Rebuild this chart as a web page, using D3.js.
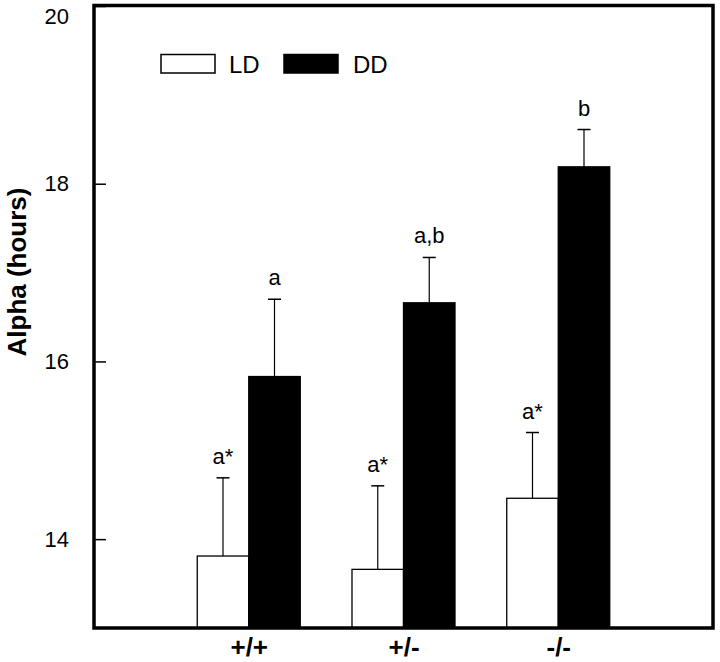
<!DOCTYPE html>
<html>
<head>
<meta charset="utf-8">
<script src="https://cdn.jsdelivr.net/npm/d3@7/dist/d3.min.js"></script>
<style>
  html, body { margin: 0; padding: 0; background: #fff; }
  svg { display: block; font-family: "Liberation Sans", Arial, sans-serif; }
</style>
</head>
<body>
<svg id="chart" width="720" height="662"></svg>
<script>
// ---- data ----
const categories = ["+/+", "+/-", "-/-"];
const seriesNames = ["LD", "DD"];
const ldMeans = [13.81, 13.66, 14.46];
const ldErr = [0.88, 0.94, 0.74];
const ddMeans = [15.83, 16.66, 18.19];
const ddErr = [0.87, 0.51, 0.42];
const ldLabels = ["a*", "a*", "a*"];
const ddLabels = ["a", "a,b", "b"];
const yTicks = [14, 16, 18, 20];
const yDomain = [13, 20];
const yTitle = "Alpha (hours)";

(function () {
// ---- layout ----
const svg = d3.select("#chart");
const mLeft = 94, mRight = 713, mTop = 6, mBottom = 628;
const barW = 51.5;

const x = d3.scaleLinear().domain([0, categories.length + 1]).range([mLeft, mRight]);
const y = d3.scaleLinear().domain(yDomain).range([mBottom, mTop]);

const series = [
  { name: "LD", means: ldMeans, err: ldErr, labels: ldLabels, fill: "#fff", off: -barW },
  { name: "DD", means: ddMeans, err: ddErr, labels: ddLabels, fill: "#000", off: 0 }
];

// bars
series.forEach(s => {
  const g = svg.append("g");
  const data = categories.map((c, i) => ({ i, m: s.means[i], e: s.err[i], lab: s.labels[i] }));
  g.selectAll("line.eb").data(data).enter().append("line")
    .attr("x1", d => x(d.i + 1) + s.off + barW / 2)
    .attr("x2", d => x(d.i + 1) + s.off + barW / 2)
    .attr("y1", d => y(d.m))
    .attr("y2", d => y(d.m + d.e))
    .attr("stroke", "#000").attr("stroke-width", 1.2);
  g.selectAll("line.cap").data(data).enter().append("line")
    .attr("x1", d => x(d.i + 1) + s.off + barW / 2 - 6.5)
    .attr("x2", d => x(d.i + 1) + s.off + barW / 2 + 6.5)
    .attr("y1", d => y(d.m + d.e))
    .attr("y2", d => y(d.m + d.e))
    .attr("stroke", "#000").attr("stroke-width", 1.5);
  g.selectAll("rect").data(data).enter().append("rect")
    .attr("x", d => x(d.i + 1) + s.off)
    .attr("y", d => y(d.m))
    .attr("width", barW)
    .attr("height", d => y(yDomain[0]) - y(d.m))
    .attr("fill", s.fill)
    .attr("stroke", "#000").attr("stroke-width", 1.3);
  g.selectAll("text").data(data).enter().append("text")
    .attr("x", d => x(d.i + 1) + s.off + barW / 2)
    .attr("y", d => y(d.m + d.e) - 14)
    .attr("text-anchor", "middle")
    .attr("font-size", 22)
    .text(d => d.lab);
});

// y axis (inward ticks)
const yAxis = d3.axisLeft(y).tickValues(yTicks).tickSize(-12).tickPadding(25).tickFormat(d3.format("d"));
const yg = svg.append("g").attr("transform", `translate(${mLeft},0)`).call(yAxis);
yg.select(".domain").remove();
yg.selectAll(".tick line").attr("stroke", "#000").attr("stroke-width", 1.5);
yg.selectAll(".tick text").attr("font-size", 22).attr("font-family", "Liberation Sans, Arial, sans-serif").attr("fill", "#000");
yg.selectAll(".tick").filter(d => d === 20).select("text").attr("dy", "0.8em");

// x axis
const xAxis = d3.axisBottom(x).tickValues(categories.map((c, i) => i + 1)).tickSize(0).tickFormat((d) => categories[d - 1]);
const xg = svg.append("g").attr("transform", `translate(0,${mBottom})`).call(xAxis);
xg.select(".domain").remove();
xg.selectAll(".tick text").attr("dy", null).attr("y", 28)
  .attr("font-size", 26).attr("font-weight", "bold")
  .attr("font-family", "Liberation Sans, Arial, sans-serif").attr("fill", "#000");

// frame
svg.append("rect")
  .attr("x", mLeft).attr("y", mTop - 0.5)
  .attr("width", mRight - mLeft).attr("height", mBottom - mTop + 0.5)
  .attr("fill", "none").attr("stroke", "#000").attr("stroke-width", 3.5);

// y title
svg.append("text")
  .attr("transform", "translate(26,272) rotate(-90)")
  .attr("text-anchor", "middle")
  .attr("font-size", 26).attr("font-weight", "bold")
  .text(yTitle);

// legend
const legend = svg.append("g");
const legendItems = [
  { name: seriesNames[0], fill: "#fff", bx: 161, tx: 229 },
  { name: seriesNames[1], fill: "#000", bx: 284, tx: 353 }
];
legendItems.forEach(it => {
  legend.append("rect").attr("x", it.bx).attr("y", 54.5).attr("width", 54).attr("height", 18.5)
    .attr("fill", it.fill).attr("stroke", "#000").attr("stroke-width", 1.5);
  legend.append("text").attr("x", it.tx).attr("y", 73).attr("font-size", 24).text(it.name);
});
})();
</script>
</body>
</html>
